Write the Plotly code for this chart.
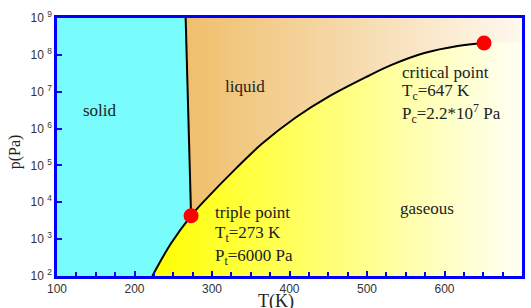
import plotly.graph_objects as go

# ---- data ----
curve_T = [223, 247, 273, 292, 331, 364, 408, 450, 501, 531, 574, 617, 651]
curve_p = [1.0e2, 7.6e2, 4.3e3, 1.2e4, 8.3e4, 3.8e5, 2.0e6, 7.24e6, 2.63e7, 5.25e7, 1.12e8, 1.74e8, 2.09e8]
melt_T = [266, 273]
melt_p = [1.0e9, 4.3e3]
triple_T, triple_p = 273, 4.3e3
crit_T, crit_p = 651, 2.09e8
x_ticks = [100, 200, 300, 400, 500, 600, 700]
y_exps = [2, 3, 4, 5, 6, 7, 8, 9]
T_min, T_max, p_min, p_max = 100, 700, 1e2, 1e9

serif = "Liberation Serif, Times New Roman, serif"
sans = "Liberation Sans, Arial, sans-serif"

fig = go.Figure()

# liquid region (orange -> white); the gas fill is drawn over its lower part
fig.add_trace(go.Scatter(
    x=melt_T + [T_max, T_max], y=[melt_p[0], melt_p[1], melt_p[1], p_max],
    mode="lines", line=dict(width=0), fill="toself",
    fillgradient=dict(type="horizontal", start=melt_T[0], stop=T_max,
                      colorscale=[[0, "#EFBF6C"], [0.5, "#F6DBAE"], [1, "#FFF9F0"]]),
    hoverinfo="skip", showlegend=False))

# gaseous region (yellow -> white): between the bottom edge and the curve
fig.add_trace(go.Scatter(x=[curve_T[0], T_max], y=[p_min, p_min], mode="lines",
                         line=dict(width=0), hoverinfo="skip", showlegend=False))
fig.add_trace(go.Scatter(
    x=curve_T + [T_max], y=curve_p + [crit_p],
    mode="lines", line=dict(width=0, shape="spline"), fill="tonexty",
    fillgradient=dict(type="horizontal", start=curve_T[0], stop=T_max,
                      colorscale=[[0, "#FFFF00"], [0.45, "#FFFF70"], [0.8, "#FFFFC8"], [1, "#FFFFF8"]]),
    hoverinfo="skip", showlegend=False))

# boundaries
fig.add_trace(go.Scatter(x=curve_T, y=curve_p, mode="lines", hoverinfo="skip",
                         line=dict(color="black", width=2, shape="spline"), showlegend=False))
fig.add_trace(go.Scatter(x=melt_T, y=melt_p, mode="lines", hoverinfo="skip",
                         line=dict(color="black", width=2), showlegend=False))

# special points
fig.add_trace(go.Scatter(x=[triple_T, crit_T], y=[triple_p, crit_p], mode="markers",
                         hoverinfo="skip", marker=dict(color="#FF0000", size=15), showlegend=False))

def ann(x, logy, text, xanchor="center", size=17):
    fig.add_annotation(x=x, y=logy, xref="x", yref="y", text=text, showarrow=False,
                       xanchor=xanchor, yanchor="middle",
                       font=dict(family=serif, size=size, color="#222222"))

ann(155, 6.48, "solid")
ann(342, 7.15, "liquid")
ann(577, 3.84, "gaseous")
ann(543, 7.53, "critical point", "left")
ann(543, 6.99, "T<sub>c</sub>=647 K", "left")
ann(543, 6.42, "P<sub>c</sub>=2.2*10<sup>7</sup> Pa", "left")
ann(301, 3.71, "triple point", "left")
ann(301, 3.15, "T<sub>t</sub>=273 K", "left")
ann(301, 2.52, "P<sub>t</sub>=6000 Pa", "left")

# axis titles
fig.add_annotation(x=(277 - 57) / 0.78 + 100, y=-0.1, xref="x", yref="paper", text="T(K)",
                   showarrow=False, yanchor="middle",
                   font=dict(family=serif, size=18, color="#222222"))
fig.add_annotation(x=-0.09, y=0.48, xref="paper", yref="paper", text="p(Pa)", showarrow=False,
                   textangle=-90, xanchor="center", yanchor="middle",
                   font=dict(family=serif, size=16, color="#222222"))

fig.update_layout(
    width=531, height=308,
    margin=dict(l=57, r=6, t=18, b=32),
    paper_bgcolor="white", plot_bgcolor="#78FCFC",
    hovermode=False,
    xaxis=dict(range=[T_min, T_max], tickvals=x_ticks, ticks="inside", ticklen=5,
               tickcolor="#0000FF", tickwidth=1.5, showgrid=False, zeroline=False,
               showline=True, linecolor="#0000FF", linewidth=2.5, mirror=True,
               minor=dict(dtick=25, ticks="inside", ticklen=4, tickcolor="#0000FF", tickwidth=1.5),
               tickfont=dict(family=sans, size=12, color="#333333")),
    yaxis=dict(type="log", range=[2, 9], tickvals=[10 ** e for e in y_exps],
               ticktext=[f"10 <sup>{e}</sup>" for e in y_exps],
               ticks="inside", ticklen=5, tickcolor="#0000FF", tickwidth=1.5,
               showgrid=False, zeroline=False,
               showline=True, linecolor="#0000FF", linewidth=2.5, mirror=True,
               tickfont=dict(family=sans, size=12, color="#333333")),
)

fig.write_html("out.html", config={"displayModeBar": False},
               post_script="document.body.style.margin='0';")
